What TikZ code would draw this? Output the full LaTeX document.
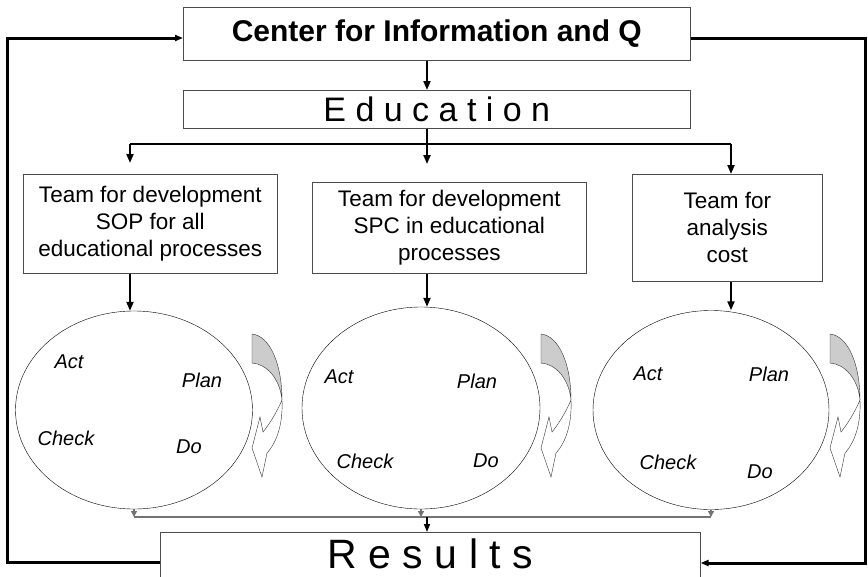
\documentclass[tikz,border=0pt]{standalone}
\usepackage{fontspec}
\setmainfont{Liberation Sans}
\usetikzlibrary{shapes,arrows.meta,calc,positioning}
\tikzset{box/.style={rectangle,draw=black!70,semithick,fill=white,inner sep=0pt,
align=center,anchor=north west,font=\fontsize{22.5}{27}\selectfont},
title/.style={box,font=\fontsize{30}{36}\selectfont\bfseries},
big/.style={box,font=\fontsize{34}{40}\selectfont},
huge/.style={box,draw=none,font=\fontsize{41}{48}\selectfont},
frame/.style={draw=black!70,semithick},
cyc/.style={ellipse,draw,thin,inner sep=0pt},
word/.style={font=\fontsize{20}{24}\selectfont\itshape},
link/.style={line width=2pt,-{Triangle[length=9pt,width=7pt]}},
bus/.style={line width=2pt},
feed/.style={line width=3pt},
lowbus/.style={draw=black!55,line width=1.3pt},
turnback/.style={draw=black!80,thin,fill=black!20},
turnfront/.style={draw=black!80,thin,fill=white},
>={Triangle[length=8pt,width=6pt]}}
\newcommand{\turnarrow}[1]{
\begin{scope}[shift={#1}]
\filldraw[turnback] (0,0) .. controls (18,2) and (30,30) .. (30,66) .. controls (28,45) and (15,30) .. (0,29) -- cycle;
\filldraw[turnfront] (30,66) .. controls (24,80) and (16,92) .. (11,98) -- (8,83) -- (0,114) -- (10,143) -- (15,119) .. controls (25,108) and (31,90) .. (30,66) -- cycle;
\end{scope}
}

\begin{document}
\begin{tikzpicture}[x=1pt,y=-1pt]
  \useasboundingbox (0,0) rectangle (868,576);

  \node (center) [title,minimum width=507pt,minimum height=53pt] at (183,7) {Center for Information and Q};
  \node (educ) [big,minimum width=507pt,minimum height=38pt] at (183,90) {E d u c a t i o n};

  \node (team1) [box,minimum width=254pt,minimum height=99pt] at (23,174) {Team for development\\SOP for all\\educational processes};
  \node (team2) [box,minimum width=274pt,minimum height=91pt] at (312,182) {Team for development\\SPC in educational\\processes};
  \node (team3) [box,minimum width=190pt,minimum height=107pt] at (632,174) {Team for\\analysis\\cost};

  \node (cycle1) [cyc,minimum width=237pt,minimum height=198pt] at (134,410) {};
  \node (cycle2) [cyc,minimum width=238pt,minimum height=202pt] at (421,408) {};
  \node (cycle3) [cyc,minimum width=236pt,minimum height=199pt] at (711,410) {};

  \node (results) [huge,minimum width=540pt,minimum height=43pt] at (160,532) {R e s u l t s};
  \draw [frame] (results.south west) ++(0,12) |- (results.north east) -- ++(0,55);

  % PDCA words
  \node (act1) [word] at (69,362) {Act};
  \node (plan1) [word] at (202,380) {Plan};
  \node (check1) [word] at (66,438) {Check};
  \node (do1) [word] at (189,447) {Do};
  \node (act2) [word] at (339,377) {Act};
  \node (plan2) [word] at (477,381) {Plan};
  \node (check2) [word] at (365,461) {Check};
  \node (do2) [word] at (486,461) {Do};
  \node (act3) [word] at (648,374) {Act};
  \node (plan3) [word] at (769,374) {Plan};
  \node (check3) [word] at (668,462) {Check};
  \node (do3) [word] at (760,472) {Do};

  \turnarrow{(252,334)}
  \turnarrow{(541,334)}
  \turnarrow{(830,334)}

  \coordinate (b1) at (130,144);
  \coordinate (b2) at (427,144);
  \coordinate (b3) at (731,144);
  \draw [link] (center.south -| b2) -- (educ.north -| b2);
  \draw [bus] (b1) -- (b3);
  \draw [bus] (educ.south -| b2) -- (b2);
  \draw [link,shorten >=11pt] (b1) -- (b1 |- team1.north);
  \draw [link,shorten >=18pt] (b2) -- (b2 |- team2.north);
  \draw [link] (b3) -- (b3 |- team3.north);

  \draw [link] (team1.south -| b1) -- (cycle1.north -| b1);
  \draw [link] (team2.south -| b2) -- (cycle2.north -| b2);
  \draw [link] (team3.south -| b3) -- (cycle3.north -| b3);

  \coordinate (low) at (427,517);
  \draw [lowbus] (cycle1.south |- low) -- (cycle3.south |- low);
  \foreach \c in {cycle1,cycle2,cycle3}
    \draw [lowbus,-{Triangle[length=6pt,width=6pt]}] (\c.south) -- (\c.south |- low);
  \draw [line width=1.5pt,->] (low) -- (low |- results.north);

  \coordinate (cornerBL) at (7,562);
  \coordinate (cornerTL) at (7,38);
  \coordinate (cornerTR) at (865,38);
  \coordinate (cornerBR) at (865,563);
  \draw [feed,->] (results.west |- cornerBL) -- (cornerBL) -- (cornerTL) -- (center.west |- cornerTL);
  \draw [feed,->] (center.east |- cornerTR) -- (cornerTR) -- (cornerBR) -- (results.east |- cornerBR);
\end{tikzpicture}
\end{document}
